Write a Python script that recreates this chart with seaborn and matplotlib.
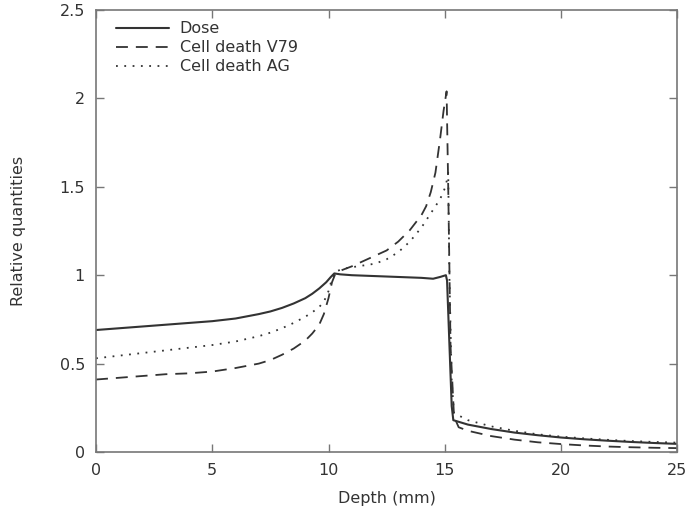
import pandas as pd
import seaborn as sns
import matplotlib
matplotlib.use("Agg")
import matplotlib.pyplot as plt
from matplotlib.ticker import FuncFormatter

# === DATA ===
dose_x = [0, 1, 2, 3, 4, 5, 6, 7, 7.5, 8, 8.5, 9, 9.3, 9.6, 9.9, 10.1, 10.25,
          10.5, 11, 12, 13, 14, 14.5, 14.8, 15.05, 15.1, 15.3, 15.37, 16, 17,
          18, 19, 20, 21, 22, 23, 24, 25]
dose_y = [0.69, 0.70, 0.71, 0.72, 0.73, 0.74, 0.755, 0.78, 0.795, 0.815, 0.84,
          0.87, 0.895, 0.925, 0.96, 0.99, 1.01, 1.005, 1.0, 0.995, 0.99, 0.985,
          0.98, 0.99, 1.0, 0.97, 0.26, 0.18, 0.155, 0.13, 0.11, 0.095, 0.082,
          0.072, 0.064, 0.057, 0.051, 0.046]

v79_x = [0, 1, 2, 3, 4, 5, 6, 7, 7.5, 8, 8.5, 9, 9.3, 9.6, 9.8, 10.0, 10.15,
         10.3, 10.6, 11, 11.5, 12, 12.5, 13, 13.5, 14, 14.2, 14.4, 14.6, 14.8,
         14.95, 15.08, 15.15, 15.25, 15.4, 15.6, 16, 17, 18, 19, 20, 21, 22,
         23, 24, 25]
v79_y = [0.41, 0.42, 0.43, 0.44, 0.445, 0.455, 0.475, 0.50, 0.52, 0.55, 0.585,
         0.63, 0.67, 0.72, 0.78, 0.87, 0.96, 1.01, 1.03, 1.05, 1.08, 1.11, 1.14,
         1.19, 1.255, 1.34, 1.39, 1.47, 1.58, 1.77, 1.93, 2.04, 1.5, 0.6, 0.2,
         0.14, 0.12, 0.09, 0.07, 0.055, 0.045, 0.037, 0.031, 0.027, 0.024,
         0.022]

ag_x = [0, 1, 2, 3, 4, 5, 6, 7, 7.5, 8, 8.5, 9, 9.3, 9.6, 9.8, 10.0, 10.15,
        10.3, 10.6, 11, 11.5, 12, 12.5, 13, 13.5, 14, 14.3, 14.6, 14.8, 15.0,
        15.1, 15.15, 15.2, 15.3, 15.4, 16, 17, 18, 19, 20, 21, 22, 23, 24, 25]
ag_y = [0.53, 0.545, 0.56, 0.575, 0.59, 0.605, 0.625, 0.655, 0.675, 0.70, 0.73,
        0.765, 0.79, 0.82, 0.85, 0.91, 0.98, 1.02, 1.035, 1.045, 1.055, 1.065,
        1.09, 1.13, 1.19, 1.27, 1.33, 1.39, 1.43, 1.49, 1.54, 1.58, 1.0, 0.4,
        0.22, 0.18, 0.145, 0.12, 0.10, 0.087, 0.077, 0.069, 0.062, 0.057,
        0.053]

x_ticks = [0, 5, 10, 15, 20, 25]
y_ticks = [0, 0.5, 1, 1.5, 2, 2.5]

# === STYLE ===
sns.set_style("ticks", {"xtick.direction": "in", "ytick.direction": "in"})
plt.rcParams["font.family"] = ["DejaVu Sans"]
text_col = "#333333"
line_col = "#333333"
spine_col = "#777777"

fig = plt.figure(figsize=(6.91, 5.17), dpi=100)
ax = fig.add_axes([0.139, 0.1257, 0.841, 0.855])

sns.lineplot(x=dose_x, y=dose_y, ax=ax, color=line_col, lw=1.5,
             sort=False, estimator=None, label="Dose")
sns.lineplot(x=v79_x, y=v79_y, ax=ax, color=line_col, lw=1.3,
             sort=False, estimator=None, label="Cell death V79",
             linestyle=(0, (6.6, 4.4)))
sns.lineplot(x=ag_x, y=ag_y, ax=ax, color=line_col, lw=1.3,
             sort=False, estimator=None, label="Cell death AG",
             linestyle=(0, (1, 3.6)))

ax.set_xlim(0, 25)
ax.set_ylim(0, 2.5)
ax.set_xticks(x_ticks)
ax.set_yticks(y_ticks)
ax.yaxis.set_major_formatter(FuncFormatter(lambda v, p: f"{v:g}"))
ax.tick_params(axis="both", which="both", direction="in", length=6, width=1,
               color=spine_col, labelsize=11.5, labelcolor=text_col,
               top=True, right=True, pad=8)
for s in ax.spines.values():
    s.set_color(spine_col)
    s.set_linewidth(1.2)

ax.set_xlabel("Depth (mm)", fontsize=11.5, color=text_col, labelpad=9)
ax.set_ylabel("Relative quantities", fontsize=11.5, color=text_col, labelpad=24)

leg = ax.legend(loc="upper left", frameon=False, fontsize=11.5,
                handlelength=3.3, handletextpad=0.7, labelspacing=0.25,
                bbox_to_anchor=(0.015, 1.0), borderaxespad=0.3)
for t in leg.get_texts():
    t.set_color(text_col)

fig.savefig("out.png", dpi=100)
